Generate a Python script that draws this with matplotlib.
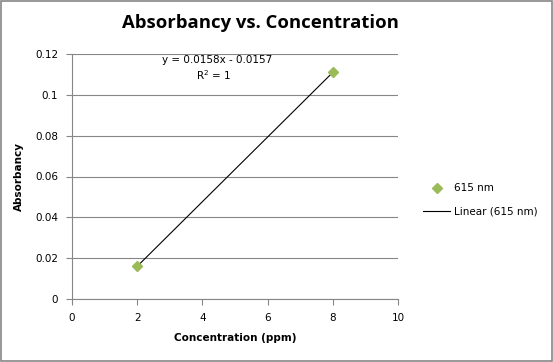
import numpy as np
import matplotlib.pyplot as plt
from matplotlib.patches import Rectangle

# Dados
concentracao = [2, 8]
absorbancia = [0.016, 0.111]
x_ticks = [0, 2, 4, 6, 8, 10]
y_ticks = [0, 0.02, 0.04, 0.06, 0.08, 0.1, 0.12]
y_tick_labels = ["0", "0.02", "0.04", "0.06", "0.08", "0.1", "0.12"]

fig = plt.figure(figsize=(5.53, 3.62), dpi=100)
ax = fig.add_axes([72 / 553, 63 / 362, 326 / 553, 245 / 362])

grid_cor = "#868686"
ax.set_xlim(0, 10)
ax.set_ylim(0, 0.12)
ax.set_xticks(x_ticks)
ax.set_yticks(y_ticks)
ax.set_yticklabels(y_tick_labels)
ax.yaxis.grid(True, color=grid_cor, linewidth=0.8)
ax.set_axisbelow(True)
for lado in ["top", "right"]:
    ax.spines[lado].set_visible(False)
for lado in ["left", "bottom"]:
    ax.spines[lado].set_color(grid_cor)
    ax.spines[lado].set_linewidth(0.8)
ax.tick_params(axis="both", colors=grid_cor, length=4, width=0.8, labelsize=7.5,
               labelcolor="black", direction="out", pad=6)

# Linha de tendência (regressão linear)
a, b = np.polyfit(concentracao, absorbancia, 1)
xs = np.array([min(concentracao), max(concentracao)])
linha, = ax.plot(xs, a * xs + b, color="black", linewidth=0.8, zorder=2)
pontos, = ax.plot(concentracao, absorbancia, linestyle="none", marker="D",
                  markersize=5.5, color="#9BBB59", zorder=3)

ax.text(2.76, 0.117, "y = 0.0158x - 0.0157", ha="left", va="center", fontsize=7.5)
ax.text(4.33, 0.1097, "R$^2$ = 1", ha="center", va="center", fontsize=7.5)

ax.set_xlabel("Concentration (ppm)", fontsize=7.5, fontweight="bold", labelpad=7)
ax.set_ylabel("Absorbancy", fontsize=7.5, fontweight="bold", labelpad=8)

fig.text(260 / 553, 1 - 23 / 362, "Absorbancy vs. Concentration", ha="center",
         va="center", fontsize=13.3, fontweight="bold", family="Open Sans")

fig.legend([pontos, linha], ["615 nm", "Linear (615 nm)"], loc="center left",
           bbox_to_anchor=(414 / 553, 1 - 200 / 362), frameon=False, fontsize=7.5,
           handlelength=2.6, labelspacing=1.3, handletextpad=0.3)

# Borda da figura
fig.patches.append(Rectangle((0.001, 0.002), 0.997, 0.995, transform=fig.transFigure,
                             fill=False, edgecolor="#868686", linewidth=1.2))

fig.savefig("out.png", dpi=100)
